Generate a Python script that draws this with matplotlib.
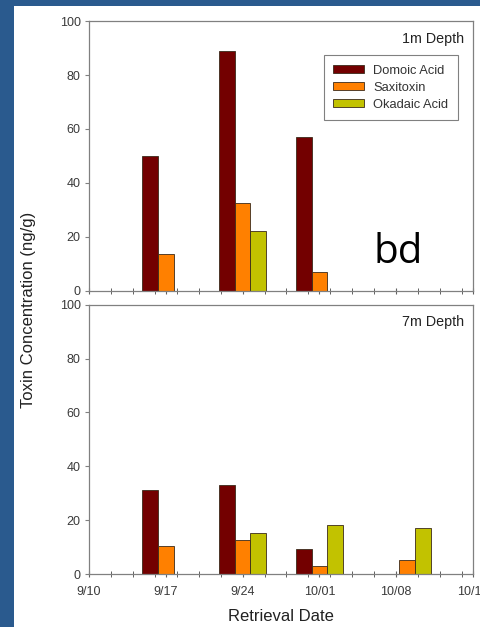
import matplotlib
matplotlib.use("Agg")
import matplotlib.pyplot as plt
import numpy as np
from matplotlib.patches import Rectangle

# retrieval dates as days after 9/10
sample_day = [7, 14, 21, 29]
tick_days = [0, 7, 14, 21, 28, 35]
tick_labels = ['9/10', '9/17', '9/24', '10/01', '10/08', '10/15']

toxins = ['Domoic Acid', 'Saxitoxin', 'Okadaic Acid']
colors = ['#730000', '#ff8000', '#c2c200']

# ng/g, nan = not detected
domoic_1m = [50.1, 88.9, 57.0, np.nan]
saxitoxin_1m = [13.6, 32.7, 6.9, np.nan]
okadaic_1m = [np.nan, 22.1, np.nan, np.nan]

domoic_7m = [31.3, 32.9, 9.3, np.nan]
saxitoxin_7m = [10.5, 12.7, 3.0, 5.2]
okadaic_7m = [np.nan, 15.2, 18.2, 17.1]

plt.rcParams['font.family'] = ['Liberation Sans', 'DejaVu Sans']

fig = plt.figure(figsize=(4.81, 6.27), dpi=100)
fig.patch.set_facecolor('#2a5a8e')
fig.patches.append(Rectangle((14/481, 0), 1, 1 - 6/627, transform=fig.transFigure,
                             facecolor='white', edgecolor='none', zorder=-5))

ax1 = fig.add_axes([0.185, 0.5359, 0.7983, 0.4306])
ax2 = fig.add_axes([0.185, 0.0845, 0.7983, 0.4295])

width = 1.42
days = np.array(sample_day)


def draw_panel(ax, series, label):
    for i, vals in enumerate(series):
        ax.bar(days + (i - 1) * width, vals, width=width, color=colors[i],
               edgecolor='#3a2a1a', linewidth=0.6, label=toxins[i], zorder=2)
    ax.set_xlim(0, 35)
    ax.set_ylim(0, 100)
    ax.set_yticks([0, 20, 40, 60, 80, 100])
    ax.set_xticks(tick_days)
    ax.set_xticks([d for d in range(0, 36, 2) if d not in tick_days], minor=True)
    for s in ax.spines.values():
        s.set_color('#808080')
        s.set_linewidth(0.9)
    ax.tick_params(axis='y', direction='out', length=3, width=0.8, colors='#808080',
                   labelcolor='#3a3a3a', labelsize=9, pad=3)
    ax.tick_params(axis='x', which='major', direction='inout', length=5, width=0.8,
                   colors='#606060', labelcolor='#3a3a3a', labelsize=9, pad=6)
    ax.tick_params(axis='x', which='minor', direction='inout', length=4, width=0.7,
                   colors='#606060')
    ax.text(0.978, 0.935, label, transform=ax.transAxes, ha='right', va='center',
            fontsize=10.3, color='#222222')


draw_panel(ax1, [domoic_1m, saxitoxin_1m, okadaic_1m], '1m Depth')
draw_panel(ax2, [domoic_7m, saxitoxin_7m, okadaic_7m], '7m Depth')

ax1.set_xticklabels([])
ax2.set_xticklabels(tick_labels)

ax1.text(28.2, 14.0, 'bd', ha='center', va='center', fontsize=29,
         family='Open Sans', color='black')

leg = ax1.legend(loc='upper right', bbox_to_anchor=(0.961, 0.874), borderaxespad=0,
                 fontsize=9.3, fancybox=False, framealpha=1, edgecolor='#808080',
                 handlelength=2.4, handleheight=0.6, labelspacing=0.38,
                 borderpad=0.75, handletextpad=0.7)
leg.get_frame().set_linewidth(0.8)
for t in leg.get_texts():
    t.set_color('#333333')

ax2.set_xlabel('Retrieval Date', fontsize=12, color='#222222', labelpad=8)
fig.text(0.06, 0.505, 'Toxin Concentration (ng/g)', rotation=90, ha='center',
         va='center', fontsize=12, color='#222222')

fig.savefig('out.png', dpi=100, facecolor=fig.get_facecolor())
